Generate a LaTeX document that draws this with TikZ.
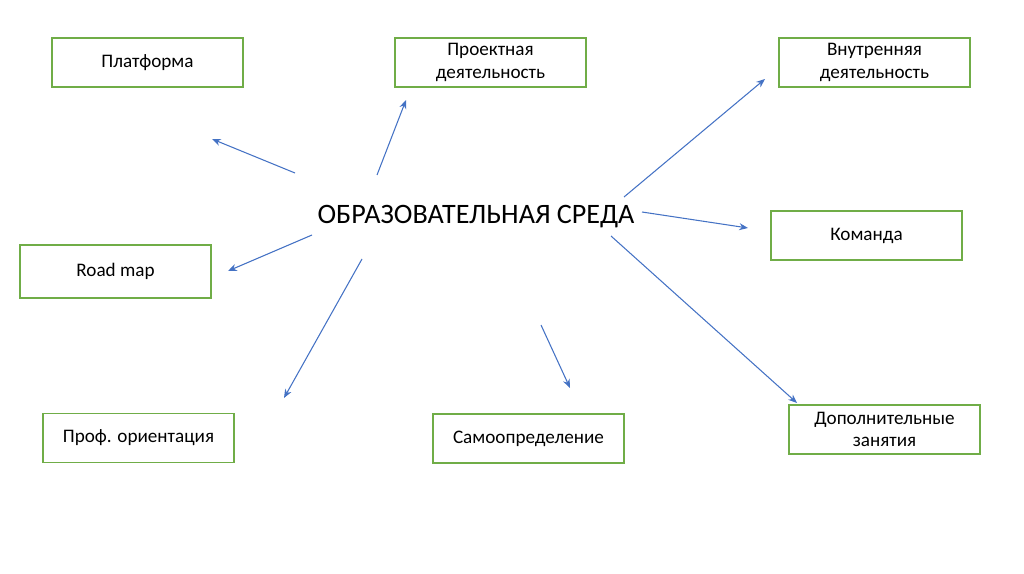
\documentclass[tikz,border=0pt]{standalone}
\usepackage{fontspec}
\setmainfont{Carlito}
\definecolor{verdecaja}{RGB}{112, 173, 71}
\definecolor{azulflecha}{RGB}{68, 114, 196}
\usetikzlibrary{positioning, arrows.meta}

\begin{document}
\begin{tikzpicture}[x=0.02cm, y=-0.02cm,
    caja/.style={draw=verdecaja, line width=0.8pt, minimum width=3.82cm, minimum height=0.98cm, inner sep=1pt, align=center, font=\fontsize{10.9}{13}\selectfont},
    flecha/.style={-{Stealth[length=5pt, width=4pt]}, azulflecha, line width=0.6pt}]
        \useasboundingbox (0,0) rectangle (1024,574);
        \node (centro) at (476,217) {\fontsize{16}{19}\selectfont ОБРАЗОВАТЕЛЬНАЯ СРЕДА};
        \node[caja] (platforma) at (147.5,62.5) {Платформа};
        \node[caja] (proekt) at (490.5,62.5) {Проектная\\деятельность};
        \node[caja] (vnutr) at (874.5,62.5) {Внутренняя\\деятельность};
        \node[caja] (komanda) at (866.5,235.5) {Команда};
        \node[caja, minimum height=1.06cm] (roadmap) at (115.5,271.5) {Road map};
        \node[caja] (prof) at (138.5,438) {Проф. ориентация};
        \node[caja] (samo) at (528.5,438.5) {Самоопределение};
        \node[caja] (dop) at (884.5,429.5) {Дополнительные\\занятия};
        % puntos de las flechas
        \coordinate (a1) at (295,173);  \coordinate (b1) at (212,139);
        \coordinate (a2) at (377,175);  \coordinate (b2) at (406,100);
        \coordinate (a3) at (624,197);  \coordinate (b3) at (765,79);
        \coordinate (a4) at (642,212);  \coordinate (b4) at (748,228);
        \coordinate (a5) at (312,235);  \coordinate (b5) at (228,271);
        \coordinate (a6) at (362,259);  \coordinate (b6) at (284,398);
        \coordinate (a7) at (541,325);  \coordinate (b7) at (570,388);
        \coordinate (a8) at (611,236);  \coordinate (b8) at (797,403);
        \foreach \i in {1,...,8}
          \draw[flecha] (a\i) -- (b\i);
      \end{tikzpicture}
\end{document}
